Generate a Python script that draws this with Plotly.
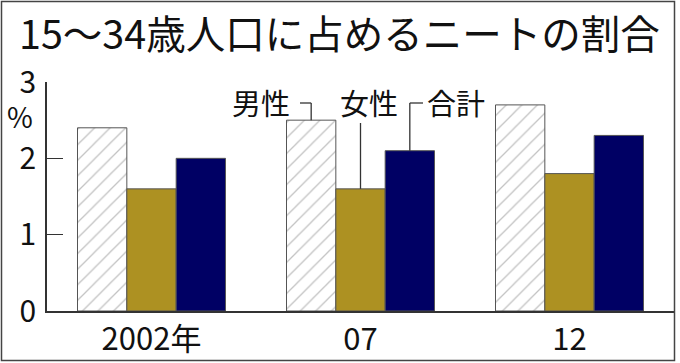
import plotly.graph_objects as go

categories = ["2002年", "07", "12"]
male = [2.4, 2.5, 2.7]
female = [1.6, 1.6, 1.8]
total = [2.0, 2.1, 2.3]
y_ticks = [0, 1, 2, 3]
title_text = "15～34歳人口に占めるニートの割合"
labels = ["男性", "女性", "合計"]

FONT = "Noto Sans CJK JP"
W, H = 680, 363
L, R, T, B = 47, 6, 82, 52
BARGAP = 0.292
bw = (1 - BARGAP) / 3
pw = W - L - R
ph = H - T - B

def px_to_x(px):
    return (px - L) / pw * 3 - 0.5

def py_to_y(py):
    return (H - B - py) / ph * 3

def px_to_paper_x(px):
    return (px - L) / pw

def py_to_paper_y(py):
    return (H - B - py) / ph

fig = go.Figure()
fig.add_trace(go.Bar(
    x=categories, y=male, name="男性",
    marker=dict(color="white", line=dict(color="#555", width=1),
                pattern=dict(shape="/", fgcolor="#888", bgcolor="white",
                             size=11, solidity=0.12)),
))
fig.add_trace(go.Bar(
    x=categories, y=female, name="女性",
    marker=dict(color="#AD9122", line=dict(color="#555", width=1)),
))
fig.add_trace(go.Bar(
    x=categories, y=total, name="合計",
    marker=dict(color="#000064", line=dict(color="#555", width=1)),
))

line_c = "#333"
lab_y = py_to_y(102)
lead_y = py_to_y(103)
mx = 1 - bw
fx = 1
tx = 1 + bw
shapes = [
    dict(type="rect", xref="paper", yref="paper",
         x0=px_to_paper_x(1.5), x1=px_to_paper_x(674.5),
         y0=py_to_paper_y(360.5), y1=py_to_paper_y(1.5),
         line=dict(color="#444", width=1.5)),
    dict(type="line", xref="x", yref="y", x0=px_to_x(300), x1=mx, y0=lead_y, y1=lead_y,
         line=dict(color=line_c, width=1.3)),
    dict(type="line", xref="x", yref="y", x0=mx, x1=mx, y0=lead_y, y1=male[1],
         line=dict(color=line_c, width=1.3)),
    dict(type="line", xref="x", yref="y", x0=fx, x1=fx, y0=py_to_y(123), y1=female[1],
         line=dict(color=line_c, width=1.3)),
    dict(type="line", xref="x", yref="y", x0=tx, x1=px_to_x(423), y0=lead_y, y1=lead_y,
         line=dict(color=line_c, width=1.3)),
    dict(type="line", xref="x", yref="y", x0=tx, x1=tx, y0=lead_y, y1=total[1],
         line=dict(color=line_c, width=1.3)),
]

def ann(text, x, y, size, xref="x", yref="y"):
    return dict(text=text, x=x, y=y, xref=xref, yref=yref, showarrow=False,
                xanchor="center", yanchor="middle",
                font=dict(size=size, family=FONT, color="#111"))

annotations = [
    ann(labels[0], px_to_x(260.5), lab_y, 29),
    ann(labels[1], px_to_x(368.5), lab_y, 29),
    ann(labels[2], px_to_x(456), lab_y, 29),
    ann("%", px_to_paper_x(20), py_to_paper_y(116), 28, "paper", "paper"),
    ann(title_text, px_to_paper_x(339), py_to_paper_y(31), 39.5, "paper", "paper"),
]

fig.update_layout(
    width=W, height=H,
    margin=dict(l=L, r=R, t=T, b=B, pad=0, autoexpand=False),
    paper_bgcolor="white", plot_bgcolor="white",
    barmode="group", bargap=BARGAP, bargroupgap=0,
    showlegend=False,
    shapes=shapes, annotations=annotations,
    font=dict(family=FONT, color="#111"),
    xaxis=dict(type="category", range=[-0.5, 2.5], showline=True, linecolor="#333",
               linewidth=1.5, ticks="", showgrid=False, zeroline=False, automargin=False,
               tickfont=dict(size=31, family=FONT, color="#111"), ticklabelstandoff=0),
    yaxis=dict(range=[0, 3], tickvals=y_ticks, showline=True, linecolor="#333",
               linewidth=1.5, ticks="inside", ticklen=16, tickcolor="#333", tickwidth=1.3,
               showgrid=False, zeroline=False, automargin=False,
               tickfont=dict(size=30, family=FONT, color="#111"), ticklabelstandoff=3),
)

fig.write_html("out.html", config={"displayModeBar": False},
               post_script="document.body.style.margin='0';document.body.style.overflow='hidden';")
